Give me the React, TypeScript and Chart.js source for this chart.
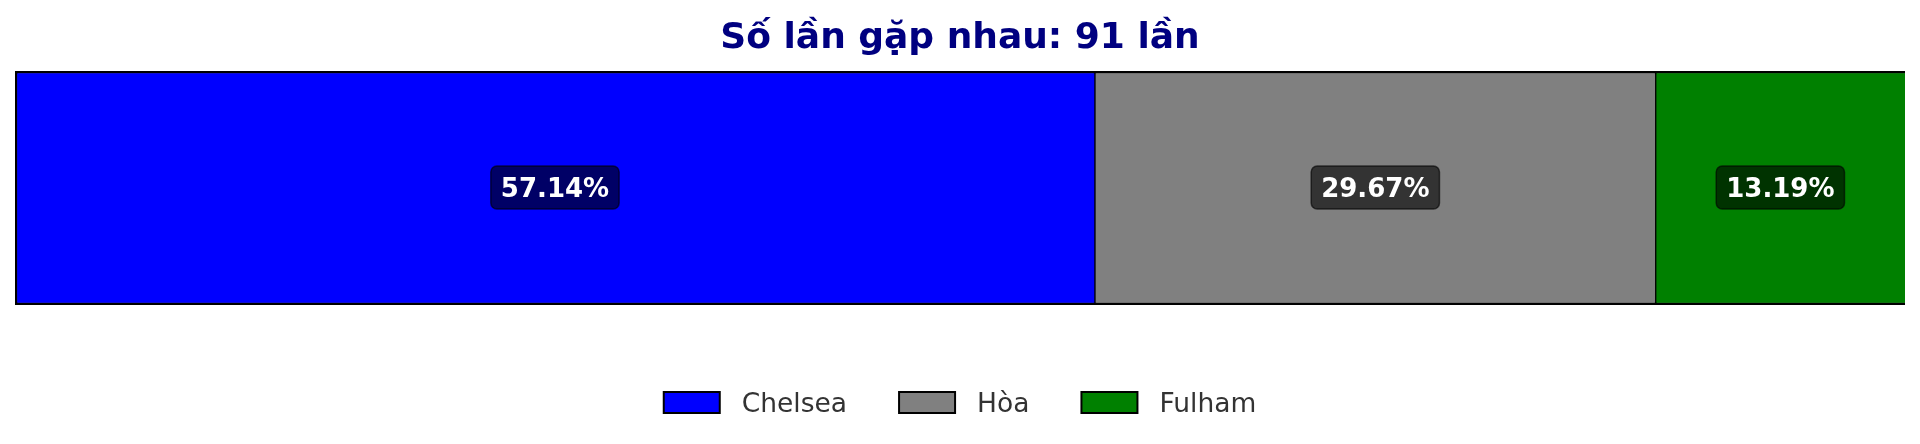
import { useEffect, useRef } from "react";
import Chart from "chart.js/auto";

const totalMatches = 91;
const categories = ["Chelsea", "Hòa", "Fulham"];
const percentages = [57.14, 29.67, 13.19];
const colors = ["#0000ff", "#808080", "#008000"];

const FONT = "'DejaVu Sans', 'Noto Sans', sans-serif";

// percentage badges in the middle of each segment
const badgePlugin = {
  id: "badges",
  afterDatasetsDraw(chart: any) {
    const ctx = chart.ctx;
    ctx.save();
    ctx.font = `bold 26px ${FONT}`;
    chart.data.datasets.forEach((ds: any, i: number) => {
      const bar = chart.getDatasetMeta(i).data[0];
      if (!bar) return;
      const cx = (bar.x + bar.base) / 2;
      const cy = bar.y;
      const text = `${ds.data[0].toFixed(2)}%`;
      const w = ctx.measureText(text).width + 20;
      const h = 43;
      ctx.beginPath();
      ctx.roundRect(cx - w / 2, cy - 22, w, h, 6);
      ctx.fillStyle = "rgba(0,0,0,0.6)";
      ctx.fill();
      ctx.lineWidth = 1.5;
      ctx.strokeStyle = "rgba(0,0,0,0.6)";
      ctx.stroke();
      ctx.fillStyle = "#ffffff";
      ctx.textAlign = "center";
      ctx.textBaseline = "alphabetic";
      ctx.fillText(text, cx, cy + 8.5);
    });
    ctx.restore();
  },
};

// legend row centred under the bar
const legendPlugin = {
  id: "bottomLegend",
  afterDraw(chart: any) {
    const ctx = chart.ctx;
    const boxW = 56;
    const boxH = 21;
    const textGap = 22;
    const itemGap = 52;
    ctx.save();
    ctx.font = `26.5px ${FONT}`;
    const widths = chart.data.datasets.map((ds: any) => ctx.measureText(ds.label).width);
    let total = 0;
    widths.forEach((w: number, i: number) => {
      total += boxW + textGap + w + (i < widths.length - 1 ? itemGap : 0);
    });
    let x = chart.width / 2 - total / 2;
    const top = 392;
    chart.data.datasets.forEach((ds: any, i: number) => {
      ctx.fillStyle = ds.backgroundColor;
      ctx.fillRect(x, top, boxW, boxH);
      ctx.lineWidth = 2;
      ctx.strokeStyle = "#000";
      ctx.strokeRect(x, top, boxW, boxH);
      ctx.fillStyle = "#333333";
      ctx.textAlign = "left";
      ctx.textBaseline = "alphabetic";
      ctx.fillText(ds.label, x + boxW + textGap, 412);
      x += boxW + textGap + widths[i] + itemGap;
    });
    ctx.restore();
  },
};

function StackedShareBar() {
  const canvasRef = useRef<HTMLCanvasElement>(null);
  const chartRef = useRef<Chart | null>(null);

  useEffect(() => {
    if (!canvasRef.current) return;
    if (chartRef.current) chartRef.current.destroy();

    const last = categories.length - 1;
    const datasets = categories.map((name, i) => ({
      label: name,
      data: [percentages[i]],
      backgroundColor: colors[i],
      borderColor: "#000000",
      borderWidth: { top: 2.5, bottom: 2.5, left: i === 0 ? 2.5 : 1, right: i === last ? 0 : 1 },
      borderSkipped: false as const,
      barPercentage: 1,
      categoryPercentage: 1,
    }));

    chartRef.current = new Chart(canvasRef.current, {
      type: "bar",
      data: { labels: [""], datasets },
      options: {
        indexAxis: "y",
        responsive: false,
        animation: false,
        devicePixelRatio: 1,
        layout: { padding: { left: 15, right: 15, top: 0, bottom: 139 } },
        plugins: {
          legend: { display: false },
          tooltip: { enabled: false },
          title: {
            display: true,
            text: `Số lần gặp nhau: ${totalMatches} lần`,
            color: "#000080",
            font: { family: FONT, size: 36, weight: "bold" },
            padding: { top: 17, bottom: 10.8 },
          },
        },
        scales: {
          x: { stacked: true, min: 0, max: 100, display: false },
          y: { stacked: true, display: false },
        },
      },
      plugins: [badgePlugin, legendPlugin],
    });

    return () => {
      if (chartRef.current) chartRef.current.destroy();
      chartRef.current = null;
    };
  }, []);

  return <canvas ref={canvasRef} width={1920} height={444} style={{ display: "block" }} />;
}

export default function App() {
  return (
    <div style={{ position: "absolute", left: 0, top: 0, width: 1920, height: 444, background: "#fff" }}>
      <StackedShareBar />
    </div>
  );
}
